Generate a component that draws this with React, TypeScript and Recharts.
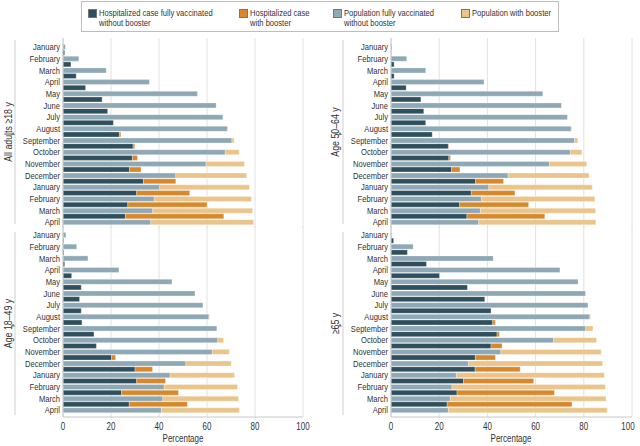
import React from 'react';
import { BarChart, Bar, XAxis, YAxis, CartesianGrid } from 'recharts';

const FONT = "'Liberation Sans', Arial, sans-serif";
// the reference uses a condensed face; squeeze Liberation Sans horizontally
const SQUEEZE = 0.8;

const DARK = '#2f4f5c';
const ORANGE = '#d8872a';
const BLUE = '#8ea8b5';
const TAN = '#eac48a';

const MONTHS = [
  'January', 'February', 'March', 'April', 'May', 'June', 'July', 'August',
  'September', 'October', 'November', 'December', 'January', 'February', 'March', 'April',
];

const X_TICKS = [0, 20, 40, 60, 80, 100];

// All adults >=18 y
const adultsHospNo = [0, 0.7, 3.3, 5.5, 9.4, 16.3, 18.6, 21, 23.5, 29.2, 28.9, 27.7, 33.5, 30.7, 27, 26];
const adultsHospB = [0, 0, 0, 0, 0, 0, 0, 0, 0.6, 0.7, 2.1, 4.8, 13.5, 22.1, 33, 41];
const adultsPopNo = [1, 6.6, 18, 36, 56, 63.8, 66.6, 68.5, 70.4, 67.6, 59.6, 47, 40.3, 38, 37.4, 36.6];
const adultsPopB = [0, 0, 0, 0, 0, 0, 0, 0.3, 0.9, 5.8, 16, 29.5, 37.4, 40.5, 41.6, 42.8];

// Age 18-49 y
const youngHospNo = [0, 0.3, 0.4, 0.7, 3.6, 7.6, 6.9, 7.6, 7.9, 12.9, 13.9, 20.2, 30, 30.7, 24.4, 27.6];
const youngHospB = [0, 0, 0, 0, 0, 0, 0, 0, 0, 0, 0, 1.7, 7.3, 12, 23.7, 24.2];
const youngPopNo = [1.2, 5.7, 10.4, 23.3, 45.4, 55, 58.3, 60.8, 64.1, 64.5, 62.2, 51.2, 44.6, 42.2, 41.6, 41];
const youngPopB = [0, 0, 0, 0, 0, 0, 0, 0.2, 0, 2.4, 7.1, 18.9, 26.9, 30.5, 31.5, 32.5];

// Age 50-64 y
const midHospNo = [0, 0.1, 1.3, 1.3, 6.3, 12.4, 13.6, 14.4, 17.1, 23.8, 24, 25.1, 35.1, 33.3, 28.5, 31.5];
const midHospB = [0, 0, 0, 0, 0, 0, 0, 0, 0, 0.2, 0.7, 3.5, 11.6, 18.1, 28.6, 32.3];
const midPopNo = [0.4, 6.5, 14.4, 38.6, 63, 70.7, 73.2, 74.7, 76.2, 74.4, 65.7, 48.6, 40.6, 37.6, 37.1, 36.4];
const midPopB = [0, 0, 0, 0, 0, 0, 0, 0.3, 1.3, 4.8, 15.5, 33.6, 42.9, 47, 47.8, 48.6];

// >=65 y
const oldHospNo = [0, 1.1, 6.8, 14.7, 20.1, 31.7, 38.9, 41.5, 42.2, 44, 41.5, 35, 34.9, 30.1, 27.4, 23.3];
const oldHospB = [0, 0, 0, 0, 0, 0, 0, 0, 1.1, 1, 4.6, 8.3, 18.7, 29.1, 40.4, 51.8];
const oldPopNo = [0.3, 9.2, 42.4, 70.1, 77.6, 80.7, 81.7, 82.5, 80.8, 67.5, 45.6, 32.2, 27.1, 25.3, 24.6, 23.8];
const oldPopB = [0, 0, 0, 0, 0, 0, 0, 0.3, 3, 17.8, 41.6, 55.6, 61.4, 63.6, 64.6, 65.9];

const buildRows = (hospNo: number[], hospB: number[], popNo: number[], popB: number[]) =>
  MONTHS.map((_, i) => ({ idx: i, hospNo: hospNo[i], hospB: hospB[i], popNo: popNo[i], popB: popB[i] }));

// narrow text: translate to the anchor point, then squeeze horizontally
const NarrowText = ({ x, y, anchor, size, children, rotate = 0 }: any) => (
  <g transform={`translate(${x},${y}) rotate(${rotate}) scale(${SQUEEZE},1)`}>
    <text x={0} y={0} textAnchor={anchor} dominantBaseline="central" fontSize={size} fill="#333" fontFamily={FONT}>
      {children}
    </text>
  </g>
);

const MonthTick = ({ x, y, payload }: any) => (
  <NarrowText x={x} y={y + 3} anchor="end" size={9.5}>
    {MONTHS[payload.value]}
  </NarrowText>
);

const PercentTick = ({ x, y, payload }: any) => (
  <NarrowText x={x} y={y + 4} anchor="middle" size={10}>
    {payload.value}
  </NarrowText>
);

interface PanelProps {
  rows: ReturnType<typeof buildRows>;
  left: number;
  top: number;
  height: number;
  axisWidth: number;
  marginRight: number;
  marginTop: number;
  showX: boolean;
}

function Panel({ rows, left, top, height, axisWidth, marginRight, marginTop, showX }: PanelProps) {
  return (
    <div style={{ position: 'absolute', left, top }}>
      <BarChart
        width={320}
        height={height}
        data={rows}
        layout="vertical"
        barCategoryGap={0.5}
        barGap={1}
        margin={{ top: marginTop, right: marginRight, bottom: 0, left: 0 }}
      >
        <CartesianGrid horizontal={false} stroke="#e2e2e2" />
        <XAxis
          type="number"
          domain={[0, 100]}
          ticks={X_TICKS}
          hide={!showX}
          height={showX ? 29 : 0}
          axisLine={{ stroke: '#c8c8c8' }}
          tickLine={false}
          tickSize={6}
          tickMargin={0}
          tick={<PercentTick />}
        />
        <YAxis
          type="category"
          dataKey="idx"
          width={axisWidth}
          interval={0}
          tick={<MonthTick />}
          tickLine={false}
          tickSize={0}
          tickMargin={3}
          axisLine={{ stroke: '#c8c8c8' }}
          padding={{ top: 0, bottom: showX ? 4 : 3 }}
        />
        <Bar dataKey="hospNo" stackId="h" fill={DARK} stroke="#ffffff" strokeWidth={0.3} isAnimationActive={false} />
        <Bar dataKey="hospB" stackId="h" fill={ORANGE} stroke="#ffffff" strokeWidth={0.3} isAnimationActive={false} />
        <Bar dataKey="popNo" stackId="p" fill={BLUE} stroke="#ffffff" strokeWidth={0.3} isAnimationActive={false} />
        <Bar dataKey="popB" stackId="p" fill={TAN} stroke="#ffffff" strokeWidth={0.3} isAnimationActive={false} />
      </BarChart>
    </div>
  );
}

const LEGEND_ITEMS = [
  { color: DARK, lines: ['Hospitalized case fully vaccinated', 'without booster'], x: 6 },
  { color: ORANGE, lines: ['Hospitalized case', 'with booster'], x: 157 },
  { color: BLUE, lines: ['Population fully vaccinated', 'without booster'], x: 251 },
  { color: TAN, lines: ['Population with booster'], x: 379 },
];

function LegendBox() {
  return (
    <div
      style={{
        position: 'absolute',
        left: 81,
        top: 1,
        width: 476,
        height: 29,
        border: '1px solid #bdbdbd',
        background: '#fff',
        fontFamily: FONT,
        fontSize: 9.5,
        color: '#333',
      }}
    >
      {LEGEND_ITEMS.map((item) => (
        <div key={item.lines[0]} style={{ position: 'absolute', left: item.x, top: 6 }}>
          <div
            style={{
              position: 'absolute',
              left: 0,
              top: 1,
              width: 9,
              height: 9,
              background: item.color,
              border: '0.5px solid #777',
              boxSizing: 'border-box',
            }}
          />
          <div
            style={{
              position: 'absolute',
              left: 11,
              top: 0,
              whiteSpace: 'nowrap',
              lineHeight: '10px',
              transform: `scaleX(${SQUEEZE})`,
              transformOrigin: 'left top',
            }}
          >
            {item.lines.map((l) => (
              <div key={l}>{l}</div>
            ))}
          </div>
        </div>
      ))}
    </div>
  );
}

const PANEL_LABELS = [
  { text: 'All adults \u226518 y', x: 8, lineX: 15, y0: 40, y1: 224 },
  { text: 'Age 18\u201349 y', x: 8, lineX: 15, y0: 232, y1: 415 },
  { text: 'Age 50\u201364 y', x: 335, lineX: 343, y0: 40, y1: 224 },
  { text: '\u226565 y', x: 335, lineX: 343, y0: 232, y1: 415 },
];

const X_LABELS = [
  { text: 'Percentage', x: 183 },
  { text: 'Percentage', x: 511 },
];

export default function App() {
  return (
    <div style={{ position: 'absolute', left: 0, top: 0, width: 640, height: 446, background: '#fff', overflow: 'hidden' }}>
      <LegendBox />
      <Panel rows={buildRows(adultsHospNo, adultsHospB, adultsPopNo, adultsPopB)} left={0} top={30} height={198} axisWidth={63} marginRight={17} marginTop={8} showX={false} />
      <Panel rows={buildRows(youngHospNo, youngHospB, youngPopNo, youngPopB)} left={0} top={226} height={220} axisWidth={63} marginRight={17} marginTop={0} showX />
      <Panel rows={buildRows(midHospNo, midHospB, midPopNo, midPopB)} left={320} top={30} height={198} axisWidth={71} marginRight={8} marginTop={8} showX={false} />
      <Panel rows={buildRows(oldHospNo, oldHospB, oldPopNo, oldPopB)} left={320} top={226} height={220} axisWidth={71} marginRight={8} marginTop={0} showX />
      <svg width={640} height={446} style={{ position: 'absolute', left: 0, top: 0, pointerEvents: 'none' }}>
        {PANEL_LABELS.map((p) => {
          const cy = (p.y0 + p.y1) / 2;
          return (
            <g key={p.text}>
              <line x1={p.lineX} x2={p.lineX} y1={p.y0} y2={p.y1} stroke="#cfcfcf" strokeWidth={1} />
              <NarrowText x={p.x} y={cy} anchor="middle" size={11} rotate={-90}>
                {p.text}
              </NarrowText>
              <path d={`M${p.x + 3} ${cy + 3} L${p.x + 5} ${cy} L${p.x + 7} ${cy + 3} Z`} fill="#777" />
            </g>
          );
        })}
        {X_LABELS.map((l) => (
          <NarrowText key={l.x} x={l.x} y={439} anchor="middle" size={10}>
            {l.text}
          </NarrowText>
        ))}
      </svg>
    </div>
  );
}
